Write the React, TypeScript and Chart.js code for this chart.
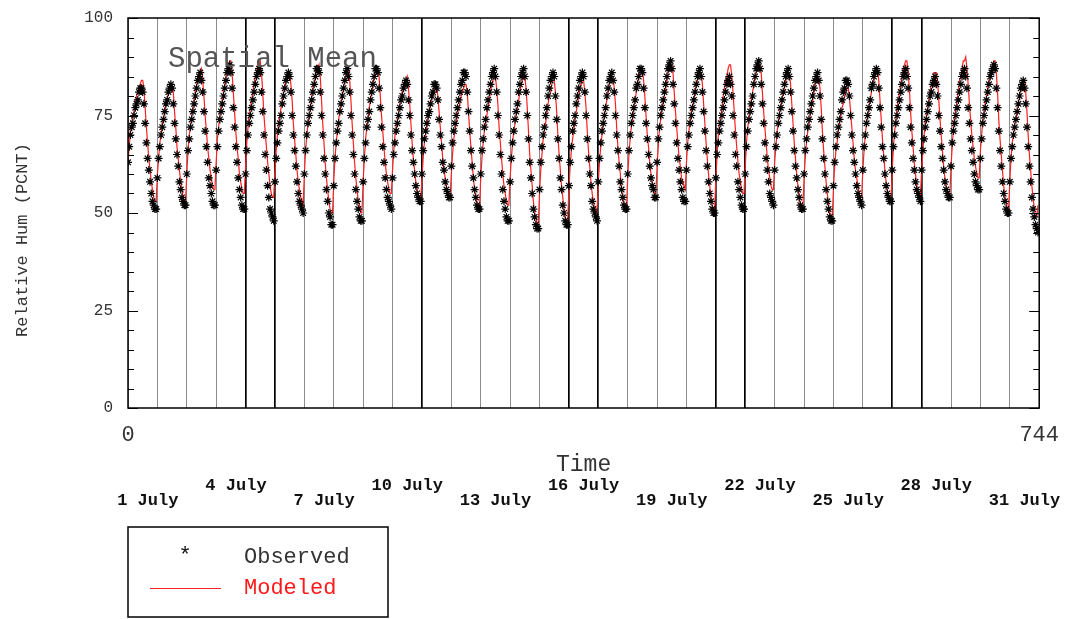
import React, { useEffect, useRef } from 'react';
import { Chart, registerables } from 'chart.js';

Chart.register(...registerables);

// Hourly spatial-mean relative humidity, 1-31 July (744 hours)
const observed = [
  63,67,70,72,73,75,77,78,79,81,82,82,81,78,73,68,64,61,58,55,53,52,51,51,
  59,64,67,70,72,74,76,78,79,81,82,83,82,78,73,69,65,62,58,56,54,53,52,52,
  60,66,69,72,74,76,78,80,82,84,85,86,84,81,76,71,67,63,59,57,55,53,52,52,
  61,67,71,74,76,78,80,82,84,86,87,88,86,82,77,72,67,63,59,56,54,52,51,51,
  60,66,70,73,75,77,79,81,83,85,86,87,86,81,76,70,65,61,57,54,51,50,49,48,
  58,64,68,71,73,75,78,80,82,84,85,86,85,81,75,70,66,62,58,55,53,52,51,50,
  60,66,70,73,75,77,79,81,83,85,87,87,86,81,75,70,64,60,56,53,50,49,47,47,
  57,64,68,71,73,76,78,80,82,84,86,87,85,81,75,70,65,60,56,53,51,49,48,48,
  58,64,68,72,74,76,79,81,83,85,87,87,86,82,77,72,67,63,59,56,54,53,52,51,
  59,65,68,71,73,75,77,79,80,82,83,84,83,79,75,70,66,63,60,57,55,54,53,53,
  60,66,69,71,73,75,76,78,80,81,83,83,82,79,74,70,67,63,61,58,56,55,54,54,
  62,68,71,73,75,77,79,81,83,84,86,86,85,81,76,71,66,62,59,56,54,52,51,51,
  60,66,69,72,74,77,79,81,83,85,86,87,85,81,75,70,65,60,56,53,51,49,48,48,
  58,64,68,71,74,76,78,81,83,85,86,87,85,81,75,69,63,59,55,51,49,47,46,46,
  56,63,67,70,72,75,77,80,82,84,85,86,85,80,74,69,64,59,56,52,50,48,47,47,
  57,63,67,71,73,75,78,80,82,84,85,86,85,81,75,69,64,60,57,53,51,50,49,48,
  58,64,68,71,73,75,77,80,82,84,85,86,84,81,75,70,66,62,58,56,54,52,51,51,
  60,66,70,73,75,77,79,82,83,85,87,87,86,82,77,73,69,65,62,59,57,56,54,54,
  63,69,72,75,77,79,81,83,85,87,88,89,87,83,78,73,68,64,61,58,56,54,53,53,
  61,67,70,73,75,77,79,81,83,85,86,87,85,81,76,71,66,62,58,55,53,51,50,50,
  59,65,68,71,73,75,77,79,81,83,84,85,83,80,75,70,65,62,58,56,54,52,51,51,
  60,67,71,74,76,78,80,83,85,87,88,89,87,83,78,73,68,64,61,58,55,54,53,52,
  61,67,70,73,75,77,79,81,83,85,86,87,85,81,76,71,66,62,59,56,54,52,51,51,
  60,66,69,72,74,76,78,80,82,84,85,86,84,80,74,69,64,60,56,53,51,49,48,48,
  57,63,67,70,72,74,76,79,81,82,84,84,83,80,75,70,66,63,60,57,55,54,53,52,
  61,67,70,73,75,77,79,82,83,85,86,87,86,82,77,72,67,64,60,57,55,54,53,53,
  61,67,70,73,75,77,79,81,83,85,86,87,85,82,77,72,68,64,61,58,56,55,54,53,
  61,66,69,72,74,76,78,80,81,83,84,85,83,80,75,71,67,64,61,58,56,55,54,54,
  62,68,71,73,75,77,79,81,83,85,86,87,85,82,77,73,69,66,63,60,58,57,56,56,
  64,69,73,75,77,79,81,83,85,86,87,88,87,82,77,71,66,62,58,55,53,51,50,50,
  58,64,67,70,72,74,76,78,80,82,83,84,82,78,72,67,62,58,54,51,49,47,46,45,
];

const modeled = [
  63,67,71,73,75,76,78,80,81,82,83,84,84,82,77,72,68,64,61,58,56,54,53,53,
  60,64,68,70,73,74,76,78,79,81,82,83,83,81,76,72,67,64,61,58,56,54,53,53,
  60,66,70,72,75,77,79,81,83,84,85,86,87,84,80,75,71,67,64,61,59,57,56,56,
  63,69,72,75,77,79,81,83,85,87,88,89,89,86,81,76,71,67,64,60,58,56,55,55,
  62,68,72,75,77,79,81,83,85,86,88,88,89,86,81,75,71,67,63,60,57,55,54,54,
  61,66,70,73,75,77,79,81,82,84,85,86,86,83,79,73,69,65,61,58,56,54,53,52,
  60,66,70,73,75,77,80,82,83,85,87,87,88,85,79,73,68,63,59,56,53,51,50,50,
  58,64,68,71,74,76,78,80,82,84,85,86,87,84,79,73,68,63,59,56,53,52,50,50,
  58,64,69,72,74,77,79,81,83,85,86,87,87,85,80,75,71,67,63,60,58,56,55,55,
  61,66,70,72,74,76,78,80,81,82,84,84,85,82,78,73,68,64,61,58,56,54,53,53,
  59,64,68,70,72,74,76,78,79,80,82,82,83,80,76,72,68,64,61,59,57,55,54,54,
  60,65,69,71,73,75,77,78,80,81,82,83,83,81,76,71,67,63,59,56,54,52,51,51,
  59,64,68,71,73,75,77,79,81,83,84,85,85,82,78,72,68,64,60,57,55,53,52,52,
  59,64,68,71,73,75,77,79,81,83,84,85,85,82,77,71,65,61,57,53,50,49,47,47,
  55,61,65,69,71,73,76,78,80,81,83,84,84,81,76,70,65,61,57,54,51,49,48,48,
  56,62,66,69,71,74,76,78,80,82,83,84,84,81,77,71,66,62,58,55,53,51,50,50,
  58,63,67,70,73,75,77,79,81,83,84,85,85,82,78,72,67,63,60,56,54,52,51,51,
  59,65,69,72,74,77,79,81,83,85,86,87,87,84,80,75,70,67,63,60,58,56,55,55,
  62,67,72,74,77,78,80,82,84,86,87,88,88,86,81,76,72,68,64,62,59,58,57,56,
  63,68,71,74,76,77,79,81,83,84,85,86,86,83,78,73,68,64,60,57,54,52,51,51,
  59,65,70,73,75,77,80,82,84,85,87,88,88,85,81,76,71,67,63,60,58,56,55,55,
  62,68,72,74,77,79,81,83,85,86,88,88,88,86,81,76,72,68,64,61,59,57,56,56,
  63,67,71,73,76,77,79,81,82,84,85,86,86,83,78,73,68,64,60,57,54,52,51,51,
  59,64,68,71,73,75,77,79,81,83,84,85,85,82,77,71,66,62,58,55,52,50,49,49,
  56,62,66,68,71,73,75,77,78,80,81,82,82,80,76,72,68,64,61,59,57,55,54,54,
  61,66,70,73,75,77,79,81,83,84,86,86,87,84,79,74,69,65,61,58,56,54,53,53,
  61,67,71,74,77,79,81,83,85,87,88,89,89,86,82,76,71,67,63,60,57,55,54,54,
  61,66,70,73,75,77,79,81,83,84,86,86,86,84,79,74,70,66,62,59,57,55,54,54,
  62,67,72,75,77,79,81,84,85,87,89,89,90,87,83,78,74,70,67,64,62,60,59,59,
  66,70,74,76,78,80,82,84,85,87,88,89,89,86,81,74,69,65,61,57,54,53,51,51,
  58,64,68,70,73,74,76,78,80,82,83,84,84,81,76,70,65,61,57,54,51,49,49,52,
];

const xMin = 0;
const xMax = 744;
const hoursPerDay = 24;
const xTickLabels = [0, 744];
const yTickValues = [0, 25, 50, 75, 100];
const dateLabels = [' 1 July', ' 4 July', ' 7 July', '10 July', '13 July', '16 July', '19 July', '22 July', '25 July', '28 July', '31 July'];
const dateLabelDays = [1, 4, 7, 10, 13, 16, 19, 22, 25, 28, 31];
const darkLineDays = [4, 5, 10, 15, 16, 20, 21, 26, 27];
const chartTitle = 'Spatial Mean';
const xTitle = 'Time';
const yTitle = 'Relative Hum (PCNT)';
const legendItems = ['Observed', 'Modeled'];

const MONO = '"Liberation Mono", "DejaVu Sans Mono", monospace';

const overlay = {
  id: 'overlay',
  afterDraw(chart: any) {
    const { ctx, chartArea: a, scales } = chart;
    const x = scales.x;
    const y = scales.y;
    ctx.save();
    // frame
    ctx.strokeStyle = '#000';
    ctx.lineWidth = 1.5;
    ctx.strokeRect(a.left, a.top, a.right - a.left, a.bottom - a.top);
    // inner tick marks on both sides
    ctx.lineWidth = 1;
    for (let v = 0; v <= 100; v += 5) {
      const py = Math.round(y.getPixelForValue(v)) + 0.5;
      const len = v % 25 === 0 ? 10 : 6;
      ctx.beginPath();
      ctx.moveTo(a.left, py);
      ctx.lineTo(a.left + len, py);
      ctx.moveTo(a.right - len, py);
      ctx.lineTo(a.right, py);
      ctx.stroke();
    }
    // y tick labels
    ctx.fillStyle = '#333';
    ctx.font = `16px ${MONO}`;
    ctx.textAlign = 'right';
    ctx.textBaseline = 'middle';
    yTickValues.forEach((v) => {
      ctx.fillText(String(v), a.left - 15, y.getPixelForValue(v));
    });
    // title
    ctx.fillStyle = '#555';
    ctx.font = `29px ${MONO}`;
    ctx.textAlign = 'left';
    ctx.fillText(chartTitle, 168, 59);
    // date labels
    ctx.fillStyle = '#111';
    ctx.font = `bold 17px ${MONO}`;
    ctx.textAlign = 'center';
    dateLabels.forEach((lab, i) => {
      const px = x.getPixelForValue((dateLabelDays[i] - 1) * hoursPerDay + 12);
      const py = i % 2 === 0 ? a.bottom + 93 : a.bottom + 78;
      ctx.fillText(lab, px, py);
    });
    // x title
    ctx.fillStyle = '#333';
    ctx.font = `23px ${MONO}`;
    ctx.fillText(xTitle, (a.left + a.right) / 2, a.bottom + 57);
    // y title
    ctx.save();
    ctx.translate(22, 240);
    ctx.rotate(-Math.PI / 2);
    ctx.font = `17px ${MONO}`;
    ctx.fillStyle = '#333';
    ctx.fillText(yTitle, 0, 0);
    ctx.restore();
    // legend box
    ctx.strokeStyle = '#000';
    ctx.lineWidth = 1.5;
    ctx.strokeRect(128, 527, 260, 90);
    ctx.font = `22px ${MONO}`;
    ctx.textAlign = 'center';
    ctx.fillStyle = '#111';
    ctx.fillText('*', 185, 556);
    ctx.textAlign = 'left';
    ctx.fillStyle = '#333';
    ctx.fillText(legendItems[0], 244, 557);
    ctx.strokeStyle = '#ff2020';
    ctx.lineWidth = 1.2;
    ctx.beginPath();
    ctx.moveTo(150, 588.5);
    ctx.lineTo(221, 588.5);
    ctx.stroke();
    ctx.fillStyle = '#ff1a1a';
    ctx.fillText(legendItems[1], 244, 588);
    ctx.restore();
  },
};

export default function App() {
  const ref = useRef<HTMLCanvasElement | null>(null);

  useEffect(() => {
    document.body.style.margin = '0';
    const canvas = ref.current;
    if (!canvas) return;
    const obsPts = observed.map((v, i) => ({ x: i, y: v }));
    const modPts = modeled.map((v, i) => ({ x: i, y: v }));
    const isDark = (value: number) => value % hoursPerDay === 0 && darkLineDays.includes(value / hoursPerDay);
    const chart = new Chart(canvas, {
      type: 'line',
      data: {
        datasets: [
          {
            label: legendItems[0],
            data: obsPts,
            showLine: false,
            pointStyle: 'star',
            pointRadius: 4,
            pointBorderColor: '#000',
            pointBorderWidth: 1.2,
            pointBackgroundColor: 'rgba(0,0,0,0)',
            order: 0,
          },
          {
            label: legendItems[1],
            data: modPts,
            borderColor: '#ff2020',
            borderWidth: 1.2,
            pointRadius: 0,
            tension: 0,
            fill: false,
            order: 1,
          },
        ],
      },
      options: {
        animation: false,
        responsive: false,
        events: [],
        layout: { padding: { top: 18, right: 30, bottom: 151, left: 0 } },
        plugins: { legend: { display: false }, tooltip: { enabled: false } },
        scales: {
          x: {
            type: 'linear',
            min: xMin,
            max: xMax,
            afterBuildTicks: (scale: any) => {
              const t = [];
              for (let v = xMin; v <= xMax; v += hoursPerDay) t.push({ value: v });
              scale.ticks = t;
            },
            afterFit: (scale: any) => {
              scale.height = 60;
            },
            ticks: {
              autoSkip: false,
              maxRotation: 0,
              padding: 14,
              color: '#333',
              font: { family: MONO, size: 22 },
              callback: (v: any) => (xTickLabels.includes(Number(v)) ? String(v) : ''),
            },
            grid: {
              drawTicks: false,
              color: (c: any) => (isDark(c.tick?.value ?? -1) ? '#000' : '#8c8c8c'),
              lineWidth: (c: any) => (isDark(c.tick?.value ?? -1) ? 1.7 : 1),
            },
            border: { display: false },
          },
          y: {
            type: 'linear',
            min: 0,
            max: 100,
            afterBuildTicks: (scale: any) => {
              scale.ticks = yTickValues.map((v) => ({ value: v }));
            },
            afterFit: (scale: any) => {
              scale.width = 128;
            },
            ticks: { display: false },
            grid: { display: false, drawTicks: false },
            border: { display: false },
          },
        },
      },
      plugins: [overlay],
    } as any);
    return () => chart.destroy();
  }, []);

  return (
    <div style={{ width: 1073, height: 619, background: '#fff' }}>
      <canvas ref={ref} width={1073} height={619} style={{ display: 'block' }} />
    </div>
  );
}
